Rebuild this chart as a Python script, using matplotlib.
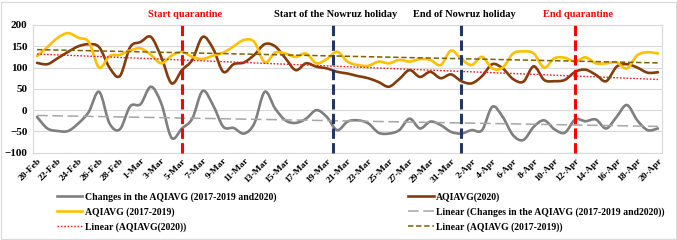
import numpy as np
import pandas as pd
import matplotlib
matplotlib.use("Agg")
from matplotlib import pyplot as plt
from matplotlib.path import Path
from matplotlib.patches import PathPatch, Rectangle
from matplotlib.lines import Line2D
import matplotlib.transforms as mtransforms

plt.rcParams["font.family"] = ["Liberation Serif", "DejaVu Serif"]
plt.rcParams["font.weight"] = "bold"

# daily x axis, 20-Feb .. 20-Apr 2020
dates = pd.date_range("2020-02-20", "2020-04-20", freq="D")
day_labels = [f"{d.day}-{d.strftime('%b')}" for d in dates]

aqi_2020 = [111, 108, 122, 137, 150, 155, 148, 100, 80, 148,
            160, 172, 125, 63, 94, 118, 172, 145, 90, 108,
            112, 130, 155, 150, 122, 94, 110, 102, 98, 90,
            86, 80, 75, 66, 55, 73, 94, 78, 90, 75,
            84, 68, 63, 80, 108, 98, 73, 67, 103, 71,
            68, 71, 90, 95, 83, 68, 102, 108, 100, 88, 89]
aqi_1719 = [127, 148, 170, 181, 170, 160, 100, 127, 130, 140,
            145, 130, 110, 128, 137, 125, 120, 128, 135, 150,
            165, 160, 112, 135, 133, 125, 133, 110, 120, 137,
            114, 106, 104, 114, 110, 118, 114, 120, 118, 106,
            140, 120, 106, 125, 98, 100, 133, 138, 133, 100,
            122, 123, 114, 124, 110, 110, 112, 98, 129, 136, 133]
changes = [-16, -43, -49, -49, -31, -4, 43, -31, -45, 9,
           14, 55, 16, -65, -43, -20, 45, 12, -39, -42,
           -55, -31, 43, 4, -24, -30, -20, 0, -16, -47,
           -27, -24, -31, -53, -55, -47, -20, -43, -27, -35,
           -51, -55, -47, -47, 8, -16, -59, -70, -39, -24,
           -45, -53, -22, -26, -22, -43, -16, 12, -24, -47, -43]

event_names = ["Start quarantine", "Start of the Nowruz holiday",
               "End of Nowruz holiday", "End quarantine"]
event_days = [14, 28.6, 41, 52]  # day index from 20-Feb
event_colors = ["#ff0000", "#1f3864", "#1f3864", "#ff0000"]
event_text_colors = ["#ff0000", "black", "black", "#ff0000"]


def smooth_path(x, y):
    # excel style smoothed line (catmull-rom as cubic bezier)
    pts = np.column_stack([np.asarray(x, float), np.asarray(y, float)])
    ext = np.vstack([pts[0], pts, pts[-1]])
    verts = [pts[0]]
    codes = [Path.MOVETO]
    for i in range(len(pts) - 1):
        p0, p1, p2, p3 = ext[i], ext[i + 1], ext[i + 2], ext[i + 3]
        verts += [p1 + (p2 - p0) / 6, p2 - (p3 - p1) / 6, p2]
        codes += [Path.CURVE4] * 3
    return Path(verts, codes)


W, H = 677, 240
fig = plt.figure(figsize=(W / 100, H / 100), dpi=100)
ax = fig.add_axes([33 / W, 1 - 152.7 / H, (662 - 33) / W, (152.7 - 25) / H])

idx = np.arange(len(dates))
grey, brown, gold = "#7f7f7f", "#843c0c", "#ffc000"

for series, color in [(changes, grey), (aqi_2020, brown), (aqi_1719, gold)]:
    ax.add_patch(PathPatch(smooth_path(idx, series), fill=False, ec=color,
                           lw=1.9, capstyle="round", joinstyle="round", zorder=3))

# linear trendlines
k, d = np.polyfit(idx, changes, 1)
ax.plot(idx, k * idx + d, color="#a6a6a6", lw=1.1, dashes=(7, 3), zorder=4)
k, d = np.polyfit(idx, aqi_2020, 1)
ax.plot(idx, k * idx + d, color="#e02020", lw=1.0, dashes=(1.2, 1.2), zorder=4)
k, d = np.polyfit(idx, aqi_1719, 1)
ax.plot(idx, k * idx + d, color="#7f6000", lw=1.1, dashes=(3.5, 1.8), zorder=4)

ax.set_xlim(-0.39, 60.39)
ax.set_ylim(-100, 200)
ax.set_yticks(np.arange(-100, 201, 50))
ax.set_xticks(idx[::2])
ax.set_xticklabels(day_labels[::2], rotation=45, ha="right", va="top",
                   rotation_mode="anchor", fontsize=6.8)
ax.tick_params(axis="x", length=0, pad=3)
ax.tick_params(axis="y", length=0, pad=4, labelsize=8)
ax.grid(axis="y", color="#d9d9d9", lw=0.8)
ax.set_axisbelow(True)
for sp in ax.spines.values():
    sp.set_color("#d9d9d9")
    sp.set_linewidth(0.8)

trans = mtransforms.blended_transform_factory(ax.transData, ax.transAxes)
for name, day, c, tc in zip(event_names, event_days, event_colors, event_text_colors):
    ax.axvline(day, ymin=0, ymax=1.023, color=c, lw=2.2, dashes=(3.4, 1.4),
               clip_on=False, zorder=6)
    ax.text(day + 0.3, 1.08, name, transform=trans, ha="center", va="center",
            color=tc, fontsize=7.5, fontweight="bold")

handles = [
    Line2D([], [], color=grey, lw=1.9),
    Line2D([], [], color=gold, lw=1.9),
    Line2D([], [], color="#e02020", lw=1.0, dashes=(1.2, 1.2)),
    Line2D([], [], color=brown, lw=1.9),
    Line2D([], [], color="#a6a6a6", lw=1.1, dashes=(7, 3)),
    Line2D([], [], color="#7f6000", lw=1.1, dashes=(3.5, 1.8)),
]
labels = [
    "Changes in the AQIAVG (2017-2019 and2020)",
    "AQIAVG (2017-2019)",
    "Linear (AQIAVG(2020))",
    "AQIAVG(2020)",
    "Linear (Changes in the AQIAVG (2017-2019 and2020))",
    "Linear (AQIAVG (2017-2019))",
]
fig.legend(handles, labels, ncol=2, loc="upper left",
           bbox_to_anchor=(57 / W, 1 - 192 / H), frameon=False, fontsize=7,
           handlelength=2.6, handletextpad=0.25, columnspacing=13.6,
           labelspacing=0.55, borderpad=0, borderaxespad=0)

fig.patches.append(Rectangle((1 / W, 1 / H), 675 / W, 237 / H, transform=fig.transFigure,
                             fill=False, ec="#d9d9d9", lw=0.8))

fig.savefig("out.png", dpi=100)
